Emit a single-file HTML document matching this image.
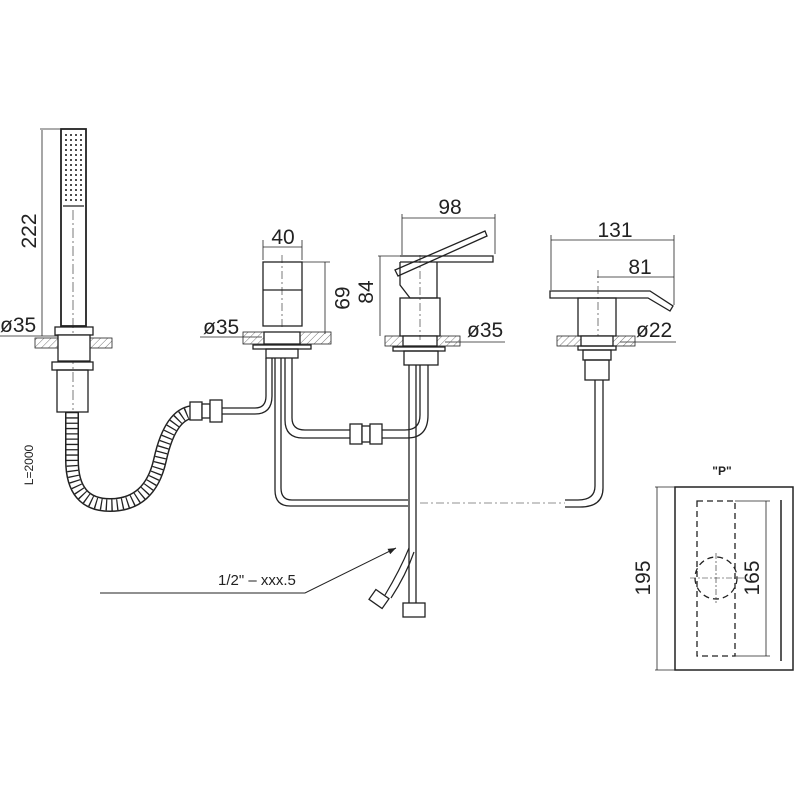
<!DOCTYPE html>
<html><head><meta charset="utf-8"><style>
html,body{margin:0;padding:0;background:#fff;width:800px;height:800px;overflow:hidden}
svg{display:block}
text{font-family:"Liberation Sans",sans-serif;fill:#222}
</style></head><body>
<svg width="800" height="800" viewBox="0 0 800 800" xmlns="http://www.w3.org/2000/svg">
<defs>
<pattern id="h" width="5" height="5" patternUnits="userSpaceOnUse" patternTransform="rotate(45)">
<line x1="0" y1="0" x2="0" y2="5" stroke="#555" stroke-width="0.8"/></pattern>
<marker id="a" markerWidth="8" markerHeight="6" refX="8" refY="3" orient="auto"><path d="M0,0 L8,3 L0,6z" fill="#222"/></marker>
</defs>
<g fill="none" stroke="#222" stroke-width="1.3">
<!-- hand shower -->
<rect x="61" y="129" width="25" height="197" stroke-width="1.8"/>
<line x1="63" y1="206" x2="84" y2="206"/>
<g stroke-width="1.6" stroke-dasharray="2 3">
<line x1="66" y1="134" x2="66" y2="203"/><line x1="71" y1="134" x2="71" y2="203"/><line x1="76" y1="134" x2="76" y2="203"/><line x1="81" y1="134" x2="81" y2="203"/>
</g>
<line x1="73" y1="210" x2="73" y2="410" stroke-width="0.6" stroke-dasharray="10 3 2 3"/>
<line x1="42" y1="130" x2="42" y2="336" stroke-width="0.8"/>
<line x1="40" y1="129" x2="60" y2="129" stroke-width="0.8"/>
<line x1="0" y1="336" x2="58" y2="336" stroke-width="0.8"/>
<rect x="35" y="338" width="77" height="10" fill="url(#h)" stroke-width="0.8"/>
<rect x="55" y="327" width="38" height="8"/>
<rect x="58" y="335" width="32" height="26" fill="#fff"/>
<rect x="52" y="362" width="41" height="8"/>
<rect x="57" y="370" width="31" height="42"/>
<!-- hose -->
<g id="hose">
<path d="M72,412 L72,460 Q72,505 110,505 Q150,505 160,460 Q170,415 192,412" stroke-width="14" stroke="#222"/>
<path d="M72,412 L72,460 Q72,505 110,505 Q150,505 160,460 Q170,415 192,412" stroke-width="11" stroke="#fff"/>
<path d="M72,412 L72,460 Q72,505 110,505 Q150,505 160,460 Q170,415 192,412" stroke-width="11" stroke="#222" stroke-dasharray="1.3 4"/>
</g>
<rect x="190" y="402" width="12" height="18" fill="#fff"/><rect x="202" y="404" width="8" height="14" fill="#fff"/><rect x="210" y="400" width="12" height="22" fill="#fff"/>
<!-- pipes from middle -->
<path d="M222,408 L255,408 Q266,408 266,396 L266,358"/>
<path d="M222,414 L255,414 Q272,414 272,396 L272,358"/>
<path d="M275,358 L275,490 Q275,506 290,506 L408,506"/>
<path d="M281,358 L281,488 Q281,500 292,500 L408,500"/>
<path d="M285,358 L285,420 Q285,438 303,438 L350,438"/>
<path d="M292,358 L292,418 Q292,430 305,430 L350,430"/>
<rect x="350" y="424" width="12" height="20" fill="#fff"/><rect x="362" y="426" width="8" height="16" fill="#fff"/><rect x="370" y="424" width="12" height="20" fill="#fff"/>
<path d="M382,430 L405,430 Q420,430 420,415 L420,365"/>
<path d="M382,438 L407,438 Q428,438 428,415 L428,365"/>
<!-- middle component -->
<rect x="263" y="262" width="39" height="64"/>
<line x1="263" y1="290" x2="302" y2="290"/>
<line x1="263" y1="247" x2="302" y2="247" stroke-width="0.8"/>
<line x1="263" y1="240" x2="263" y2="260" stroke-width="0.8"/><line x1="302" y1="240" x2="302" y2="260" stroke-width="0.8"/>
<line x1="325" y1="262" x2="325" y2="334" stroke-width="0.8"/><line x1="302" y1="262" x2="330" y2="262" stroke-width="0.8"/>
<line x1="200" y1="337" x2="262" y2="337" stroke-width="0.8"/>
<rect x="243" y="332" width="88" height="12" fill="url(#h)" stroke-width="0.8"/>
<rect x="264" y="332" width="36" height="12" fill="#fff"/>
<rect x="253" y="345" width="58" height="4"/>
<rect x="266" y="349" width="32" height="9"/>
<line x1="282" y1="255" x2="282" y2="330" stroke-width="0.6" stroke-dasharray="8 3 2 3"/>
<!-- center mixer -->
<path d="M400,262 L400,285 L410,298 L437,298 L437,262"/>
<rect x="400" y="298" width="40" height="38"/>
<path d="M400,256 L493,256 L493,262 L400,262"/>
<path d="M395,270 L485,231 L487,236 L398,276 Z"/>
<line x1="402" y1="218" x2="495" y2="218" stroke-width="0.8"/>
<line x1="402" y1="214" x2="402" y2="255" stroke-width="0.8"/><line x1="495" y1="214" x2="495" y2="254" stroke-width="0.8"/>
<line x1="380" y1="256" x2="380" y2="336" stroke-width="0.8"/><line x1="378" y1="256" x2="400" y2="256" stroke-width="0.8"/>
<line x1="445" y1="342" x2="505" y2="342" stroke-width="0.8"/>
<rect x="385" y="336" width="75" height="10" fill="url(#h)" stroke-width="0.8"/>
<rect x="403" y="336" width="34" height="10" fill="#fff"/>
<rect x="393" y="347" width="52" height="4"/>
<rect x="404" y="351" width="34" height="14"/>
<line x1="420" y1="255" x2="420" y2="340" stroke-width="0.6" stroke-dasharray="8 3 2 3"/>
<line x1="409" y1="365" x2="409" y2="603"/><line x1="416" y1="365" x2="416" y2="603"/>
<rect x="403" y="603" width="22" height="14"/>
<path d="M409,548 Q400,570 385,595" stroke-width="1.2"/>
<path d="M414,552 Q406,575 391,598" stroke-width="1.2"/>
<rect x="371" y="593" width="16" height="12" transform="rotate(35 379 599)"/>
<!-- right spout -->
<path d="M550,291 L650,291 L673,306 L670,311 L648,298 L550,298 Z"/>
<rect x="578" y="298" width="38" height="38"/>
<line x1="551" y1="240" x2="674" y2="240" stroke-width="0.8"/>
<line x1="551" y1="235" x2="551" y2="290" stroke-width="0.8"/><line x1="674" y1="235" x2="674" y2="305" stroke-width="0.8"/>
<line x1="597" y1="277" x2="674" y2="277" stroke-width="0.8"/>
<line x1="598" y1="270" x2="598" y2="340" stroke-width="0.6" stroke-dasharray="8 3 2 3"/>
<line x1="620" y1="342" x2="676" y2="342" stroke-width="0.8"/>
<rect x="557" y="336" width="78" height="10" fill="url(#h)" stroke-width="0.8"/>
<rect x="581" y="336" width="32" height="10" fill="#fff"/>
<rect x="578" y="346" width="38" height="4"/>
<rect x="583" y="350" width="28" height="10"/>
<rect x="585" y="360" width="24" height="20"/>
<path d="M595,380 L595,486 Q595,500 578,500 L565,500"/>
<path d="M603,380 L603,488 Q603,507 580,507 L565,507"/>
<line x1="420" y1="503" x2="565" y2="503" stroke-width="0.6" stroke-dasharray="8 3 2 3"/>
<!-- leader -->
<path d="M100,593 L305,593 L396,548" stroke-width="1" marker-end="url(#a)"/>
<!-- P box -->
<rect x="675" y="487" width="118" height="183" stroke-width="1.5"/>
<rect x="697" y="501" width="38" height="155" stroke-dasharray="6 4"/>
<circle cx="716" cy="578" r="21" stroke-dasharray="6 4"/>
<line x1="690" y1="578" x2="745" y2="578" stroke-width="0.6" stroke-dasharray="6 2 2 2"/>
<line x1="716" y1="553" x2="716" y2="603" stroke-width="0.6" stroke-dasharray="6 2 2 2"/>
<line x1="781" y1="500" x2="781" y2="661" stroke-width="1.5"/>
<line x1="766" y1="501" x2="766" y2="656" stroke-width="0.8"/><line x1="735" y1="501" x2="770" y2="501" stroke-width="0.8"/><line x1="735" y1="656" x2="770" y2="656" stroke-width="0.8"/>
<line x1="657" y1="487" x2="657" y2="670" stroke-width="0.8"/><line x1="655" y1="487" x2="675" y2="487" stroke-width="0.8"/><line x1="655" y1="670" x2="675" y2="670" stroke-width="0.8"/>
</g>
<g font-size="21">
<text x="41" y="231" transform="rotate(-90 41 231)" text-anchor="middle" dy="-5">222</text>
<text x="0" y="332">ø35</text>
<text x="283" y="244" text-anchor="middle">40</text>
<text x="330" y="298" transform="rotate(90 330 298)" text-anchor="middle" dy="-5">69</text>
<text x="203" y="334">ø35</text>
<text x="450" y="214" text-anchor="middle">98</text>
<text x="378" y="292" transform="rotate(-90 378 292)" text-anchor="middle" dy="-5">84</text>
<text x="467" y="337">ø35</text>
<text x="615" y="237" text-anchor="middle">131</text>
<text x="640" y="274" text-anchor="middle">81</text>
<text x="636" y="337">ø22</text>
<text x="655" y="578" transform="rotate(-90 655 578)" text-anchor="middle" dy="-5">195</text>
<text x="764" y="578" transform="rotate(-90 764 578)" text-anchor="middle" dy="-5">165</text>
</g>
<text x="33" y="465" font-size="12" transform="rotate(-90 33 465)" text-anchor="middle">L=2000</text>
<text x="218" y="585" font-size="15">1/2"  –  xxx.5</text>
<text x="722" y="475" font-size="12" font-weight="bold" text-anchor="middle">"P"</text>
</svg>
</body></html>
